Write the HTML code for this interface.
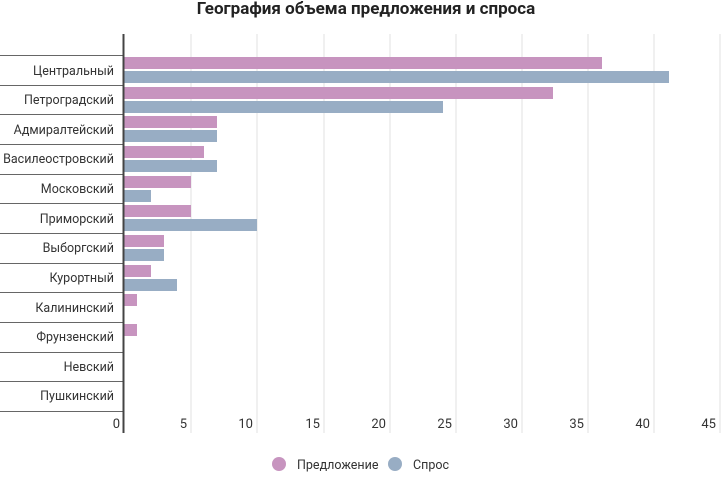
<!DOCTYPE html><html><head><meta charset="utf-8"><style>body{margin:0;background:#fff}</style></head><body>
<svg width="722" height="473" xmlns="http://www.w3.org/2000/svg" font-family="Roboto,'Liberation Sans',sans-serif">
<rect width="722" height="473" fill="#fff"/>
<text x="366" y="14" text-anchor="middle" font-size="17" font-weight="bold" fill="#222">География объема предложения и спроса</text>
<g stroke="#e2e2e2" stroke-width="1">
<line x1="191" y1="34" x2="191" y2="433"/><line x1="257" y1="34" x2="257" y2="433"/><line x1="324" y1="34" x2="324" y2="433"/><line x1="390" y1="34" x2="390" y2="433"/><line x1="456" y1="34" x2="456" y2="433"/><line x1="522" y1="34" x2="522" y2="433"/><line x1="588" y1="34" x2="588" y2="433"/><line x1="654" y1="34" x2="654" y2="433"/><line x1="720" y1="34" x2="720" y2="433"/>
</g>
<g stroke="#666" stroke-width="1">
<line x1="0" y1="55.5" x2="124" y2="55.5"/><line x1="0" y1="85.5" x2="124" y2="85.5"/><line x1="0" y1="114.5" x2="124" y2="114.5"/><line x1="0" y1="144.5" x2="124" y2="144.5"/><line x1="0" y1="174.5" x2="124" y2="174.5"/><line x1="0" y1="203.5" x2="124" y2="203.5"/><line x1="0" y1="233.5" x2="124" y2="233.5"/><line x1="0" y1="263.5" x2="124" y2="263.5"/><line x1="0" y1="292.5" x2="124" y2="292.5"/><line x1="0" y1="322.5" x2="124" y2="322.5"/><line x1="0" y1="352.5" x2="124" y2="352.5"/><line x1="0" y1="381.5" x2="124" y2="381.5"/><line x1="0" y1="411.5" x2="124" y2="411.5"/>
</g>
<g fill="#c794bf">
<rect x="124" y="57" width="478" height="12"/><rect x="124" y="87" width="429" height="12"/><rect x="124" y="116" width="93" height="12"/><rect x="124" y="146" width="80" height="12"/><rect x="124" y="176" width="67" height="12"/><rect x="124" y="205" width="67" height="12"/><rect x="124" y="235" width="40" height="12"/><rect x="124" y="265" width="27" height="12"/><rect x="124" y="294" width="13" height="12"/><rect x="124" y="324" width="13" height="12"/>
</g>
<g fill="#98adc4">
<rect x="124" y="71" width="545" height="12"/><rect x="124" y="101" width="319" height="12"/><rect x="124" y="130" width="93" height="12"/><rect x="124" y="160" width="93" height="12"/><rect x="124" y="190" width="27" height="12"/><rect x="124" y="219" width="133" height="12"/><rect x="124" y="249" width="40" height="12"/><rect x="124" y="279" width="53" height="12"/>
</g>
<line x1="123.5" y1="34" x2="123.5" y2="433" stroke="#444" stroke-width="2"/>
<g font-size="12.5" fill="#333" text-anchor="end">
<text x="114" y="75">Центральный</text><text x="114" y="104">Петроградский</text><text x="114" y="134">Адмиралтейский</text><text x="114" y="163">Василеостровский</text><text x="114" y="193">Московский</text><text x="114" y="223">Приморский</text><text x="114" y="252">Выборгский</text><text x="114" y="282">Курортный</text><text x="114" y="312">Калининский</text><text x="114" y="341">Фрунзенский</text><text x="114" y="371">Невский</text><text x="114" y="400">Пушкинский</text>
</g>
<g font-size="13" fill="#333" text-anchor="end">
<text x="120" y="428">0</text><text x="187" y="428">5</text><text x="253" y="428">10</text><text x="320" y="428">15</text><text x="386" y="428">20</text><text x="452" y="428">25</text><text x="518" y="428">30</text><text x="584" y="428">35</text><text x="650" y="428">40</text><text x="716" y="428">45</text>
</g>
<circle cx="279" cy="464" r="7" fill="#c794bf"/>
<text x="297" y="469" font-size="12.5" fill="#333">Предложение</text>
<circle cx="395" cy="464" r="7" fill="#98adc4"/>
<text x="413" y="469" font-size="12.5" fill="#333">Спрос</text>
</svg>
</body></html>
